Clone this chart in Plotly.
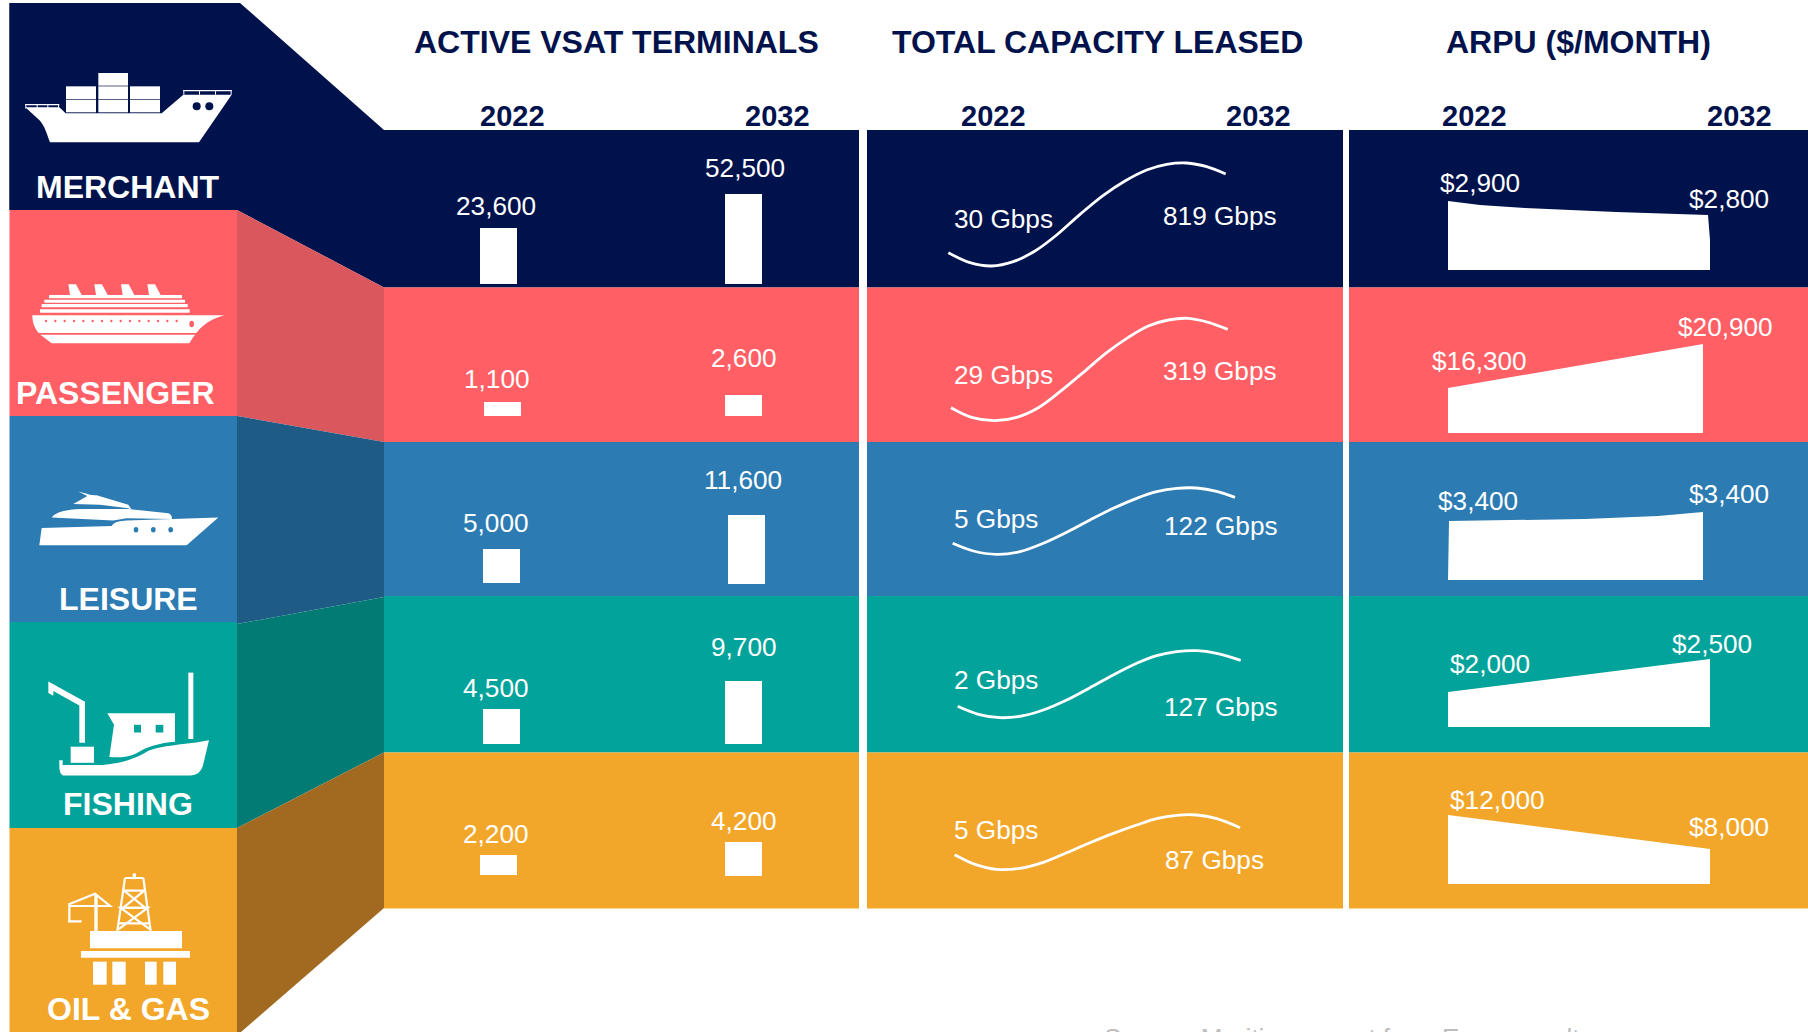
import re
import plotly.graph_objects as go

# ---------- data ----------
categories = ["MERCHANT", "PASSENGER", "LEISURE", "FISHING", "OIL & GAS"]
metric_titles = ["ACTIVE VSAT TERMINALS", "TOTAL CAPACITY LEASED", "ARPU ($/MONTH)"]
years = ["2022", "2032"]
terminals_2022 = [23600, 1100, 5000, 4500, 2200]
terminals_2032 = [52500, 2600, 11600, 9700, 4200]
capacity_2022 = [30, 29, 5, 2, 5]
capacity_2032 = [819, 319, 122, 127, 87]
arpu_2022 = [2900, 16300, 3400, 2000, 12000]
arpu_2032 = [2800, 20900, 3400, 2500, 8000]
source_text = "Source: Maritime report from Euroconsult"

# ---------- styling / layout of the infographic (pixels) ----------
W, H = 1808, 1032
NAVY, CORAL, BLUE, TEAL, AMBER = "#00124C", "#FF5F65", "#2C7BB2", "#02A39B", "#F2A72B"
front = [NAVY, CORAL, BLUE, TEAL, AMBER]
side = [NAVY, "#DB575E", "#1F5C85", "#017B74", "#A26A20"]
FONT = "Liberation Sans, Arial, sans-serif"
row_edges = [130, 287.5, 442, 596, 752.5, 908.5]
panels = [(384, 859), (867, 1343), (1349, 1808)]
front_edges = [3, 210, 416, 622, 828, 1032]
side_polys = [
    [(9.5, 3), (240, 3), (384, 130), (384, 287.5), (237, 210), (9.5, 210)],
    [(237, 210), (384, 287.5), (384, 442), (237, 416)],
    [(237, 416), (384, 442), (384, 597), (237, 624)],
    [(237, 624), (384, 597), (384, 752.5), (237, 828)],
    [(237, 828), (384, 752.5), (384, 908), (241, 1032), (237, 1032)],
]
cat_label_pos = [(128, 187), (115, 393), (128, 599), (128, 804), (128, 1009)]

bar_w = 37
bar_x = [[498.5, 743.5], [502.5, 743.5], [501.5, 746.5], [501.5, 743.5], [498.5, 743.5]]
bar_tops = [[228, 194], [402, 395], [549, 515], [709, 681], [855, 842]]
bar_bottoms = [[284, 284], [416, 416], [583, 584], [744, 744], [875, 876]]
term_lab = [[(496, 206), (745, 168)], [(497, 379), (744, 358)], [(496, 523), (743, 480)],
            [(496, 688), (744, 647)], [(496, 834), (744, 821)]]
cap_lab = [[(1003, 219), (1220, 216)], [(1003, 375), (1220, 371)], [(996, 519), (1221, 526)],
           [(996, 680), (1221, 707)], [(996, 830), (1214, 860)]]
arpu_lab = [[(1480, 183), (1729, 199)], [(1479, 361), (1725, 327)], [(1478, 501), (1729, 494)],
            [(1490, 664), (1712, 644)], [(1497, 800), (1729, 827)]]
curve_origin = [(940, 155), (940, 310), (940, 480), (950, 645), (950, 810)]
curve_crop = [
    [(25, 293), (90, 323), (155, 333), (220, 320), (285, 288), (350, 240), (420, 178), (490, 121), (555, 78),
     (620, 45), (680, 28), (740, 24), (800, 35), (857, 57)],
    [(33, 293), (95, 322), (165, 332), (230, 322), (295, 293), (360, 245), (430, 187), (500, 128), (565, 82),
     (625, 48), (685, 30), (745, 25), (805, 37), (863, 58)],
    [(38, 190), (100, 213), (170, 223), (240, 215), (310, 190), (380, 157), (450, 120), (520, 85), (590, 55),
     (650, 35), (710, 25), (770, 24), (830, 34), (885, 52)],
    [(23, 184), (85, 208), (150, 218), (215, 213), (280, 195), (350, 165), (420, 128), (490, 90), (560, 55),
     (620, 32), (680, 20), (740, 17), (800, 25), (872, 46)],
    [(14, 134), (75, 163), (140, 178), (210, 175), (280, 157), (350, 128), (420, 98), (490, 70), (560, 45),
     (620, 26), (680, 16), (740, 15), (800, 26), (870, 53)],
]
arpu_areas = [
    [(1448, 270), (1448, 201), (1480, 205), (1525, 208), (1616, 212), (1708, 215), (1710, 240), (1710, 270)],
    [(1448, 433), (1448, 388), (1703, 344), (1703, 433)],
    [(1448, 580), (1449, 521), (1585, 519), (1658, 516), (1703, 512), (1703, 580)],
    [(1448, 727), (1448, 692), (1710, 659), (1710, 727)],
    [(1448, 884), (1448, 815), (1710, 849), (1710, 884)],
]

fig = go.Figure()
shapes, annotations = [], []


def poly(pts):
    return "M" + " L".join(f"{x},{y}" for x, y in pts) + " Z"


def scaled(path, sx, sy, ox=0.0, oy=0.0):
    def f(m):
        return f"{float(m.group(1)) / sx + ox:.2f},{float(m.group(2)) / sy + oy:.2f}"
    return re.sub(r"(-?[\d.]+),(-?[\d.]+)", f, path)


def path(d, fill="white", line=None, lw=0):
    shapes.append(dict(type="path", path=d, xref="x", yref="y", layer="above",
                       fillcolor=fill if fill else "rgba(0,0,0,0)",
                       line=dict(color=line or "rgba(0,0,0,0)", width=lw)))


def text(x, y, s, size, color="white", bold=False, anchor="center", vanchor="middle"):
    annotations.append(dict(x=x, y=y, xref="x", yref="y", text=f"<b>{s}</b>" if bold else s,
                            showarrow=False, xanchor=anchor, yanchor=vanchor,
                            font=dict(family=FONT, size=size, color=color)))


# background blocks
for i in range(5):
    shapes.append(dict(type="rect", x0=9.5, x1=237, y0=front_edges[i], y1=front_edges[i + 1], xref="x", yref="y",
                       fillcolor=front[i], line=dict(width=0), layer="below"))
    shapes.append(dict(type="path", path=poly(side_polys[i]), xref="x", yref="y",
                       fillcolor=side[i], line=dict(width=0), layer="below"))
    for x0, x1 in panels:
        shapes.append(dict(type="rect", x0=x0, x1=x1, y0=row_edges[i], y1=row_edges[i + 1], xref="x", yref="y",
                           fillcolor=front[i], line=dict(width=0), layer="below"))
    text(*cat_label_pos[i], categories[i], 32, bold=True)

# titles and years
for cx, t in zip([616, 1097, 1578], metric_titles):
    text(cx, 41.5, t, 32, NAVY, True)
for cx, y in zip([512.5, 777.5, 993.5, 1258.5, 1474, 1739.5], years * 3):
    text(cx, 115.5, y, 29, NAVY, True)

VAL = 26.2
# terminals: bars
for j, vals in enumerate([terminals_2022, terminals_2032]):
    fig.add_trace(go.Bar(
        x=[bar_x[i][j] for i in range(5)],
        y=[bar_tops[i][j] - bar_bottoms[i][j] for i in range(5)],
        base=[bar_bottoms[i][j] for i in range(5)],
        width=bar_w, marker=dict(color="white", line=dict(width=0)),
        customdata=vals, hovertemplate="%{customdata:,}<extra></extra>", showlegend=False))
    for i, v in enumerate(vals):
        text(*term_lab[i][j], f"{v:,}", VAL)

# capacity: curves
for i in range(5):
    ox, oy = curve_origin[i]
    xs = [ox + p[0] / 3 for p in curve_crop[i]]
    ys = [oy + p[1] / 3 for p in curve_crop[i]]
    fig.add_trace(go.Scatter(x=xs, y=ys, mode="lines", showlegend=False, hoverinfo="skip",
                             line=dict(color="white", width=2.8, shape="spline", smoothing=1.0)))
    text(*cap_lab[i][0], f"{capacity_2022[i]} Gbps", VAL)
    text(*cap_lab[i][1], f"{capacity_2032[i]} Gbps", VAL)

# ARPU: wedges
for i in range(5):
    xs, ys = zip(*arpu_areas[i])
    fig.add_trace(go.Scatter(x=xs, y=ys, mode="lines", fill="toself", fillcolor="white", showlegend=False,
                             hoverinfo="skip", line=dict(color="white", width=0)))
    text(*arpu_lab[i][0], f"${arpu_2022[i]:,}", VAL)
    text(*arpu_lab[i][1], f"${arpu_2032[i]:,}", VAL)

# ---------- icons, traced in 3x crop coordinates ----------
Z1 = dict(sx=3, sy=3)
Z2 = dict(sx=3, sy=2.605, oy=430)


def ip(d, z, **kw):
    path(scaled(d, z["sx"], z["sy"], 0, z.get("oy", 0)), **kw)


def icirc(cx, cy, rx, ry, z, fill):
    sx, sy, oy = z["sx"], z["sy"], z.get("oy", 0)
    shapes.append(dict(type="circle", xref="x", yref="y", layer="above", fillcolor=fill, line=dict(width=0),
                       x0=(cx - rx) / sx, x1=(cx + rx) / sx, y0=(cy - ry) / sy + oy, y1=(cy + ry) / sy + oy))


def rect(x0, y0, x1, y1):
    return f"M{x0},{y0} L{x1},{y0} L{x1},{y1} L{x0},{y1} Z"


# merchant
ip("M76,322 L178,322 L197,340 L485,340 L550,284 L695,284 L597,427 L150,427 C140,400 135,380 120,362 Z", Z1)
for r in [(295, 219, 384, 257), (198, 259, 288, 297), (295, 259, 384, 297), (390, 259, 480, 297),
          (198, 299, 288, 337), (295, 299, 384, 337), (390, 299, 480, 337),
          (76, 312, 178, 316), (550, 270, 695, 274)]:
    ip(rect(*r), Z1)
for x in [76, 110, 142, 174, 550, 597, 645, 692]:
    y0 = 312 if x < 200 else 270
    ip(rect(x, y0, x + 3, y0 + 14), Z1)
icirc(590, 319, 12, 12, Z1, NAVY)
icirc(628, 319, 12, 12, Z1, NAVY)

# passenger
ip("M97,946 L673,946 C620,960 595,985 568,1030 L155,1030 L122,1005 C105,990 97,970 97,946 Z", Z1)
ip(rect(105, 999, 592, 1004), Z1, fill=CORAL)
for r in [(147, 885, 546, 895), (133, 899, 555, 908), (125, 912, 563, 922), (120, 928, 569, 938)]:
    ip(rect(*r), Z1)
for dx in [0, 78, 158, 237]:
    ip(f"M{205 + dx},853 L{228 + dx},853 L{245 + dx},885 L{210 + dx},885 Z", Z1)
for k in range(15):
    icirc(138 + 28 * k, 963, 3.5, 3.5, Z1, CORAL)
icirc(575, 972, 7, 10, Z1, CORAL)

# leisure
ip("M118,300 L125,255 L335,250 C345,238 360,238 380,236 L655,228 L560,300 Z", Z2)
ip("M155,228 C170,212 200,208 240,206 L385,206 L505,217 C515,220 517,228 515,232 L380,230 L340,236 Z", Z2)
ip("M220,193 L262,172 L235,160 C260,165 270,170 290,170 L385,195 L395,208 L385,204 L300,195 Z", Z2)
for x in [408, 460, 512]:
    icirc(x, 260, 7, 7, Z2, BLUE)

# fishing
ip(rect(565, 632, 580, 805), Z2)
ip("M145,655 L255,708 L255,815 L238,815 L238,718 L160,680 L160,692 L145,685 Z", Z2)
ip(rect(212, 825, 282, 867), Z2)
ip("M178,860 L188,860 L188,873 L290,873 C340,873 400,860 440,838 C480,820 560,820 627,808 L610,870 "
   "C605,890 590,900 570,900 L195,900 C182,900 178,890 178,875 Z", Z2)
ip("M322,738 L525,738 L525,812 C480,815 440,825 410,842 C385,852 360,854 328,852 L342,768 Z", Z2)
ip(rect(402, 768, 423, 788), Z2, fill=TEAL)
ip(rect(467, 768, 490, 788), Z2, fill=TEAL)

# oil & gas
for r in [(270, 1305, 546, 1350), (243, 1357, 570, 1375), (279, 1385, 320, 1445), (337, 1385, 377, 1445),
          (435, 1385, 470, 1445), (490, 1385, 528, 1445), (283, 1210, 293, 1305), (398, 1155, 408, 1170)]:
    ip(rect(*r), Z2)
open_lines = [
    "M375,1167 L430,1167 M375,1167 L352,1305 M430,1167 L452,1305",
    "M369,1200 L436,1200 M362,1245 L443,1245 M356,1285 L449,1285",
    "M372,1200 L436,1245 L362,1245 L449,1300 M433,1200 L369,1245 L443,1245 L356,1300",
    "M205,1236 L285,1208 L330,1240 L205,1240 M208,1240 L208,1280 M204,1280 L245,1280",
]
for d in open_lines:
    ip(d, Z2, fill=None, line="white", lw=2.2)

# source line, cut off by the page edge in the reference
text(1102, 1021, source_text, 26, "#BDBDBD", anchor="left", vanchor="top")

fig.update_layout(
    width=W, height=H, margin=dict(l=0, r=0, t=0, b=0), paper_bgcolor="white", plot_bgcolor="white",
    barmode="overlay", showlegend=False, shapes=shapes, annotations=annotations,
    xaxis=dict(range=[0, W], visible=False, fixedrange=True),
    yaxis=dict(range=[H, 0], visible=False, fixedrange=True),
)
fig.write_html("out.html", config=dict(displayModeBar=False),
               post_script="document.body.style.margin='0';document.body.style.overflow='hidden';")
